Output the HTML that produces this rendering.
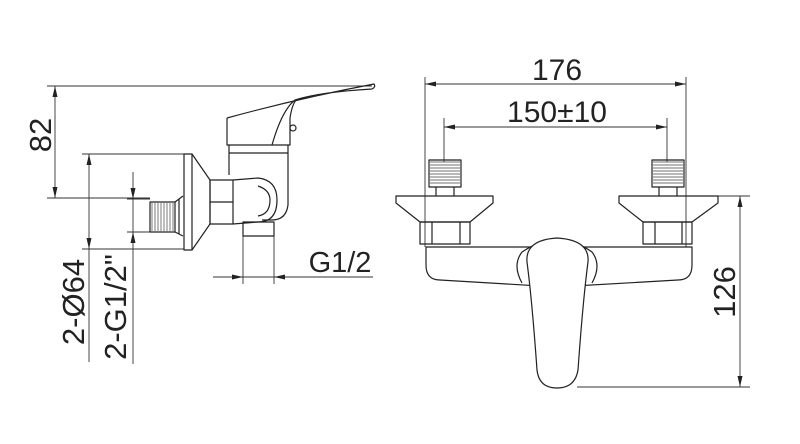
<!DOCTYPE html>
<html><head><meta charset="utf-8"><style>
html,body{margin:0;padding:0;background:#fff;}
svg{display:block}
text{font-family:"Liberation Sans",sans-serif;fill:#222;}
</style></head><body>
<svg width="800" height="444" viewBox="0 0 800 444" xmlns="http://www.w3.org/2000/svg">
<g stroke="#333" stroke-width="0.9" fill="none">
<line x1="47" y1="86" x2="372" y2="86"/>
<line x1="55" y1="86" x2="55" y2="198"/>
<line x1="47" y1="198" x2="150" y2="198"/>
<line x1="82" y1="154" x2="184" y2="154"/>
<line x1="82" y1="249" x2="184" y2="249"/>
<line x1="89" y1="154" x2="89" y2="362"/>
<line x1="133" y1="172" x2="133" y2="364"/>
<line x1="127" y1="199" x2="150" y2="199"/>
<line x1="127" y1="232" x2="150" y2="232"/>
<line x1="243" y1="236" x2="243" y2="284"/>
<line x1="274" y1="236" x2="274" y2="284"/>
<line x1="213" y1="277" x2="373" y2="277"/>
<line x1="425" y1="77" x2="425" y2="247"/>
<line x1="686" y1="77" x2="686" y2="247"/>
<line x1="425" y1="84" x2="686" y2="84"/>
<line x1="444" y1="118" x2="444" y2="162"/>
<line x1="667" y1="118" x2="667" y2="162"/>
<line x1="444" y1="127" x2="667" y2="127"/>
<line x1="718" y1="196" x2="750" y2="196"/>
<line x1="577" y1="387" x2="750" y2="387"/>
<line x1="740" y1="196" x2="740" y2="387"/>
</g>
<g fill="#222">
<polygon points="55,86 52.5,97 57.5,97"/>
<polygon points="55,198 52.5,187 57.5,187"/>
<polygon points="89,154 86.5,165 91.5,165"/>
<polygon points="89,249 86.5,238 91.5,238"/>
<polygon points="133,199 130.5,188 135.5,188"/>
<polygon points="133,232 130.5,243 135.5,243"/>
<polygon points="243,277 232,274.5 232,279.5"/>
<polygon points="274,277 285,274.5 285,279.5"/>
<polygon points="425,84 436,81.5 436,86.5"/>
<polygon points="686,84 675,81.5 675,86.5"/>
<polygon points="444,127 455,124.5 455,129.5"/>
<polygon points="667,127 656,124.5 656,129.5"/>
<polygon points="740,196 737.5,207 742.5,207"/>
<polygon points="740,387 737.5,376 742.5,376"/>
</g>
<g stroke="#222" stroke-width="1.2" fill="none" stroke-linejoin="round">
<path d="M227,118 L227,145 L290,145 L290,118"/>
<path d="M227,118 Q300,98 374,84 Q376,87 372,89 Q320,92 295,100 Q282,110 272,145"/>
<path d="M290,118 Q292,105 296,100"/>
<circle cx="293" cy="128" r="3"/>
<path d="M229,145 L229,175 M288,145 L288,205 Q286,220 272,220 L262,220"/>
<line x1="229" y1="153" x2="288" y2="153"/>
<rect x="184" y="154" width="8" height="96"/>
<path d="M192,154 L210,180 L210,224 L192,250"/>
<rect x="210" y="180" width="23" height="44"/>
<line x1="210" y1="202" x2="233" y2="202"/>
<path d="M233,180 L258,178 Q277,180 277,200 Q277,222 258,222 L233,224"/>
<path d="M258,186 Q270,190 270,200 Q270,214 258,216"/>
<rect x="243" y="222" width="31" height="14"/>
<rect x="150" y="202" width="25" height="30"/>
<path d="M175,202 L183,196 M175,232 L183,236 M179,199 L179,234"/>
</g>
<g stroke="#444" stroke-width="0.7">
<path d="M152,203 V231 M155,203 V231 M158,203 V231 M161,203 V231 M164,203 V231 M167,203 V231 M170,203 V231 M173,203 V231"/>
<path d="M430,162 H460 M430,165 H460 M430,168 H460 M430,171 H460 M430,174 H460 M430,177 H460 M430,180 H460 M430,183 H460"/>
<path d="M653,162 H683 M653,165 H683 M653,168 H683 M653,171 H683 M653,174 H683 M653,177 H683 M653,180 H683 M653,183 H683"/>
</g>
<g stroke="#222" stroke-width="1.2" fill="none" stroke-linejoin="round">
<rect x="429" y="160" width="32" height="27"/>
<rect x="652" y="160" width="32" height="27"/>
<path d="M436,187 V196 M454,187 V196 M659,187 V196 M677,187 V196"/>
<path d="M396,196 H493 V203 L470,222 H420 L396,203 Z"/>
<path d="M619,196 H718 V203 L692,222 H643 L619,203 Z"/>
<rect x="420" y="222" width="50" height="22"/>
<rect x="643" y="222" width="49" height="22"/>
<path d="M432,222 V244 M460,222 V244 M655,222 V244 M682,222 V244"/>
<path d="M426,247 L692,247 L692,265 Q692,280 678,280 L557,287 L440,280 Q426,280 426,265 Z" fill="#fff"/>
<path d="M522,283 Q512,265 522,252 Q540,240 557,239 Q575,240 592,252 Q602,265 592,283" fill="#fff"/>
<path d="M557,238 Q590,240 588,262 Q583,300 578,370 Q575,388 557,388 Q539,388 537,370 Q532,300 527,262 Q525,240 557,238 Z" fill="#fff"/>
</g>
<text x="0" y="0" font-size="31" transform="translate(51,135) rotate(-90)" text-anchor="middle">82</text>
<text x="0" y="0" font-size="31" transform="translate(84,302) rotate(-90)" text-anchor="middle">2-Ø64</text>
<text x="0" y="0" font-size="31" transform="translate(126,307) rotate(-90)" text-anchor="middle">2-G1/2"</text>
<text x="340" y="272" font-size="29" text-anchor="middle">G1/2</text>
<text x="557" y="80" font-size="30" text-anchor="middle">176</text>
<text x="557" y="122" font-size="30" text-anchor="middle">150±10</text>
<text x="0" y="0" font-size="31" transform="translate(735,292) rotate(-90)" text-anchor="middle">126</text>
</svg>
</body></html>
